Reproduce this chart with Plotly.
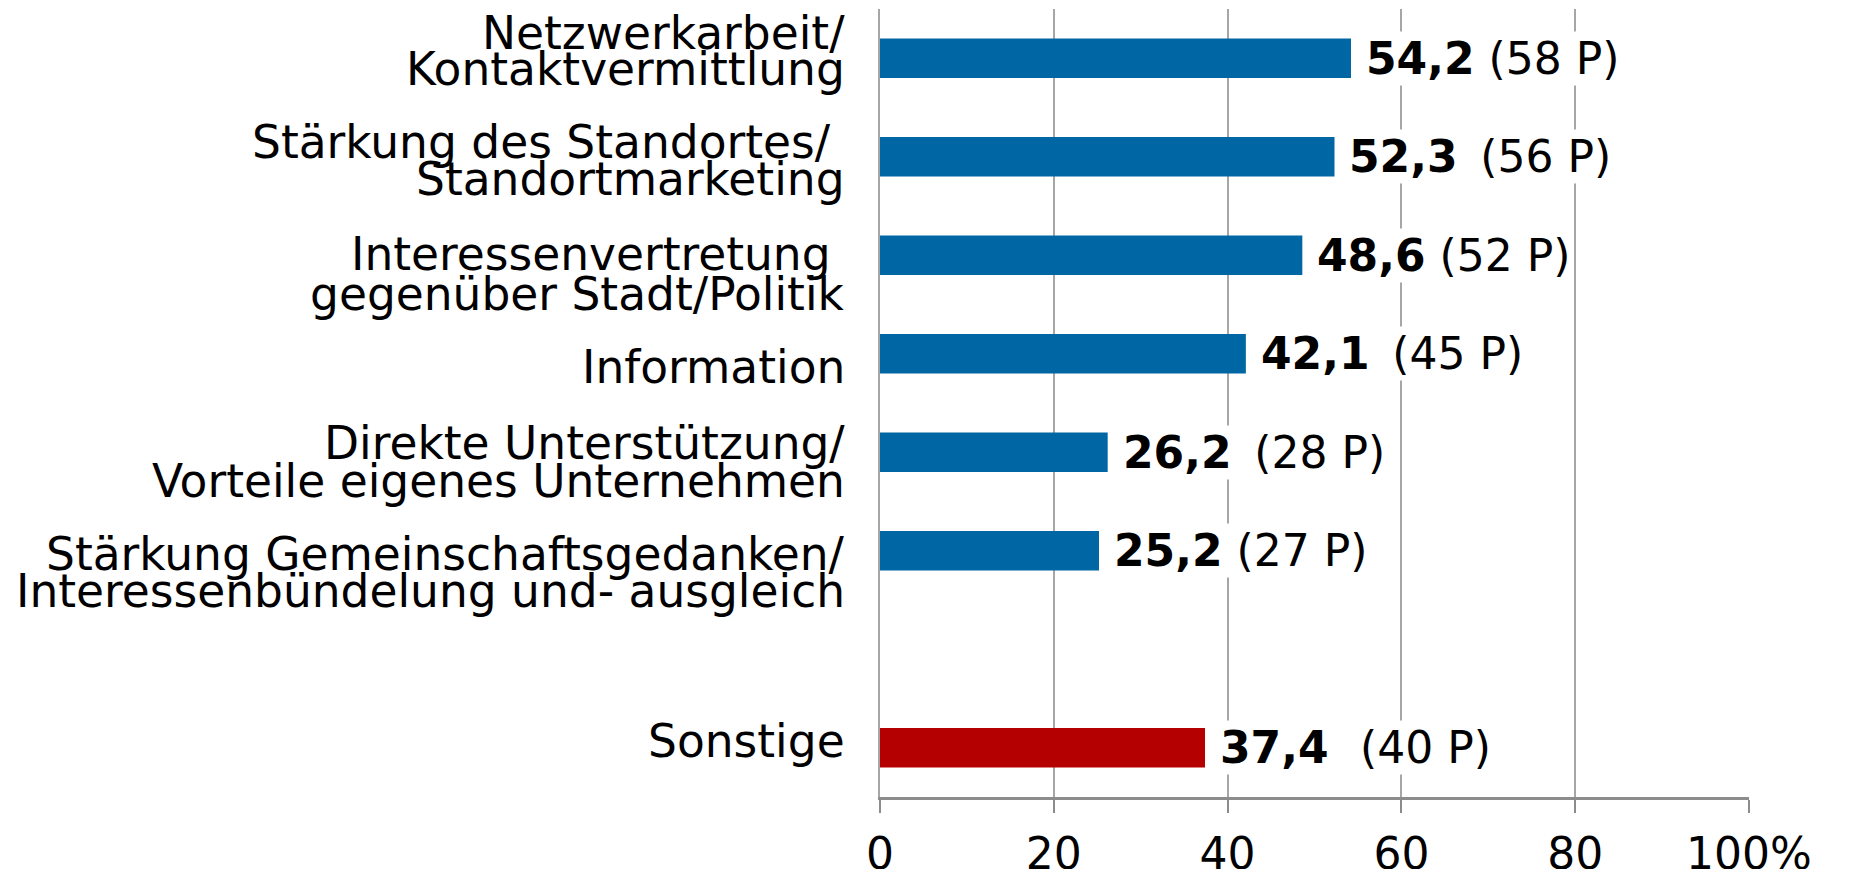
import plotly.graph_objects as go

# ---------------- data ----------------
main_labels = [
    ["Netzwerkarbeit/", "Kontaktvermittlung"],
    ["Stärkung des Standortes/\u00a0", "Standortmarketing"],
    ["Interessenvertretung\u00a0", "gegenüber Stadt/Politik"],
    ["Information"],
    ["Direkte Unterstützung/", "Vorteile eigenes Unternehmen"],
    ["Stärkung Gemeinschaftsgedanken/", "Interessenbündelung und- ausgleich"],
]
main_values = [54.2, 52.3, 48.6, 42.1, 26.2, 25.2]
main_counts = [58, 56, 52, 45, 28, 27]

other_label = ["Sonstige"]
other_value = 37.4
other_count = 40

x_tickvals = [0, 20, 40, 60, 80, 100]
x_ticktext = ["0", "20", "40", "60", "80", "100%"]

# ---------------- styling ----------------
BLUE = "#0066a4"
RED = "#b40000"
GRID = "#a6a6a6"
FONT = "DejaVu Sans"
FS_LAB = 45.5
FS = 44

# pixel offsets of each label line relative to its bar centre (layout only)
line_shifts = [[-25, 11], [-14, 23], [-1, 39], [14], [-9, 29], [4, 41], [-6]]
# number of extra thin spaces between value and count text (layout only)
count_gaps = [0, 1, 0, 1, 1, 0, 2]

main_pos = list(range(len(main_values)))
other_pos = len(main_values) + 1  # one empty slot before "Sonstige"

fig = go.Figure()
fig.add_trace(go.Bar(
    x=main_values, y=main_pos, orientation="h", width=0.4,
    marker=dict(color=BLUE, line=dict(width=0)), showlegend=False,
    hoverinfo="skip",
))
fig.add_trace(go.Bar(
    x=[other_value], y=[other_pos], orientation="h", width=0.4,
    marker=dict(color=RED, line=dict(width=0)), showlegend=False,
    hoverinfo="skip",
))

annotations = []
all_labels = main_labels + [other_label]
all_pos = main_pos + [other_pos]
all_vals = main_values + [other_value]
all_counts = main_counts + [other_count]

for lines, pos, shifts in zip(all_labels, all_pos, line_shifts):
    for line, sh in zip(lines, shifts):
        annotations.append(dict(
            x=0, y=pos, xref="x", yref="y", text=line, showarrow=False,
            xanchor="right", yanchor="middle", xshift=-33, yshift=-sh,
            font=dict(family=FONT, size=FS_LAB, color="black"),
        ))

for val, cnt, pos, gap in zip(all_vals, all_counts, all_pos, count_gaps):
    sp = " " + "\u2009" * gap
    txt = "<b>" + f"{val:.1f}".replace(".", ",") + "</b>" + sp + f"({cnt} P)"
    annotations.append(dict(
        x=val, y=pos, xref="x", yref="y", text=txt, showarrow=False,
        xanchor="left", yanchor="middle", xshift=13,
        bgcolor="white", borderpad=1,
        font=dict(family=FONT, size=FS, color="black"),
    ))

fig.update_layout(
    width=1852, height=869,
    margin=dict(l=880, r=103, t=9, b=72, pad=0, autoexpand=False),
    paper_bgcolor="white", plot_bgcolor="white",
    bargap=0.6,
    annotations=annotations,
    font=dict(family=FONT, size=FS, color="black"),
)
fig.update_xaxes(
    range=[0, 100], tickvals=x_tickvals, ticktext=x_ticktext,
    showgrid=True, gridcolor=GRID, gridwidth=1.5,
    showline=True, linecolor="#8c8c8c", linewidth=2.5,
    ticks="outside", ticklen=13, tickwidth=1.5, tickcolor="#8c8c8c",
    ticklabelstandoff=3,
    tickfont=dict(family=FONT, size=FS, color="black"),
    zeroline=False, mirror=False, fixedrange=True, automargin=False,
)
fig.update_yaxes(
    range=[len(main_values) + 1.5, -0.5],
    showticklabels=False, showgrid=False, zeroline=False,
    showline=True, linecolor=GRID, linewidth=1.5, ticks="",
    fixedrange=True, automargin=False,
)

fig.write_html(
    "out.html",
    config={"displayModeBar": False},
    post_script="document.body.style.margin='0';document.body.style.overflow='hidden';",
)
